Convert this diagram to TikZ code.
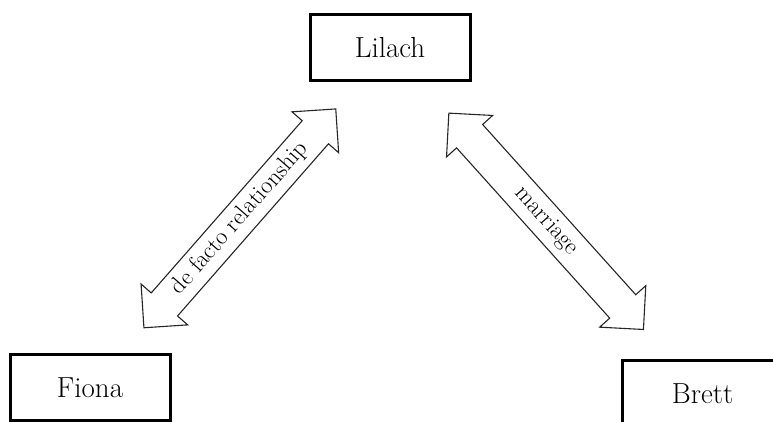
\documentclass[tikz,border=0pt]{standalone}
\usepackage{fontspec}
\begin{document}
\begin{tikzpicture}[x=1pt,y=-1pt,
  person/.style={draw=black, line width=3pt, minimum width=160pt, minimum height=66pt,
    inner sep=0pt, font=\fontsize{29}{33}\selectfont},
  arrowline/.style={draw=black!85, line width=1.1pt, line join=miter},
  arrowtext/.style={font=\fontsize{24}{28}\selectfont, inner sep=0pt},
  pics/dblarrow/.style={code={
    \draw[arrowline] (145.5,0) -- (114.5,-31) -- (114.5,-17.5) -- (-114.5,-17.5)
      -- (-114.5,-31) -- (-145.5,0) -- (-114.5,31) -- (-114.5,17.5)
      -- (114.5,17.5) -- (114.5,31) -- cycle;
    \node[arrowtext, transform shape] (-text) at (0,0) {#1};
  }}]
\useasboundingbox (0,0) rectangle (773,421);
\clip (0,0) rectangle (773,421);
\node[person] (lilach) at (390,47.8) {Lilach};
\node[person] (fiona) at (90,387.8) {Fiona};
\node[person] (brett) at (702.7,393.5) {Brett};
\pic[rotate=48.76] (rel1) at (239.85,218.35) {dblarrow={de facto relationship}};
\pic[rotate=-48.03] (rel2) at (546.15,221.3) {dblarrow={marriage}};
\end{tikzpicture}
\end{document}
